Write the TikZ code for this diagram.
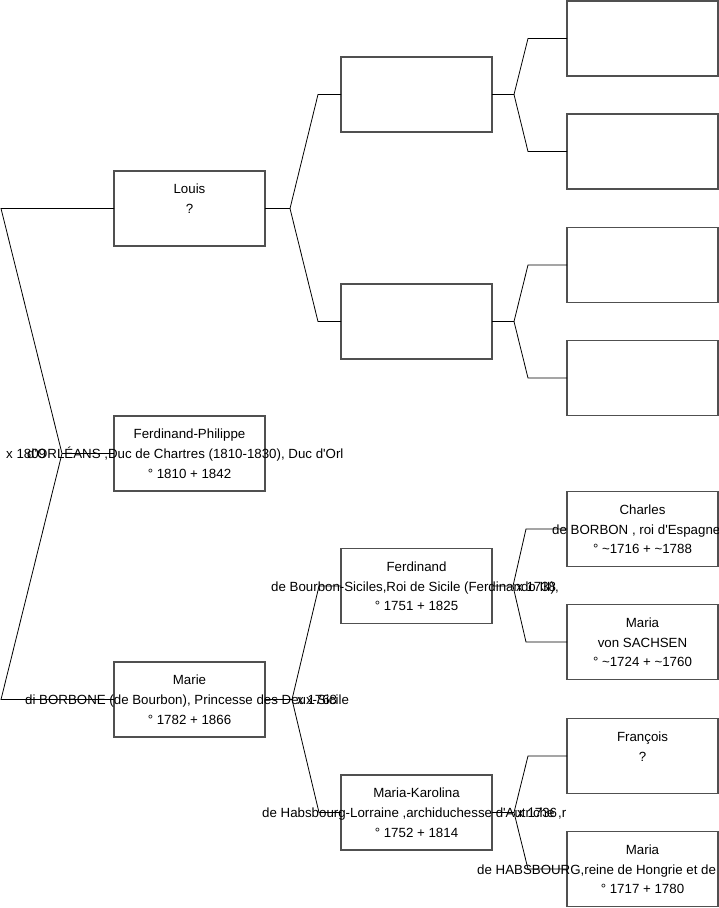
\documentclass[tikz,border=0pt]{standalone}
\usepackage{fontspec}
\newfontfamily\arial{Liberation Sans}
\definecolor{boxgray}{RGB}{80,80,80}
\begin{document}
\begin{tikzpicture}[x=1pt,y=-1pt,
  pbox/.style={draw=boxgray,line width=1.1pt,rectangle,minimum width=151pt,minimum height=75pt,inner sep=0pt,outer sep=0pt},
  txt/.style={inner sep=0pt,anchor=base,font=\arial\fontsize{13.3}{15}\selectfont},
  txtw/.style={txt,anchor=base west},
  la/.style={yshift=15pt},
  lb/.style={yshift=-5pt},
  lc/.style={yshift=-24.5pt},
  conn/.style={draw=black,line width=0.8pt}]
\useasboundingbox (0,0) rectangle (719,908);
\clip (0,0) rectangle (719,908);
% boxes
\node[pbox] (louis) at (189.5,208.5) {};
\node[pbox] (fp) at (189.5,453.5) {};
\node[pbox] (marie) at (189.5,699.5) {};
\node[pbox] (ga) at (416.5,94.5) {};
\node[pbox] (gb) at (416.5,321.5) {};
\node[pbox] (ferd) at (416.5,586) {};
\node[pbox] (mk) at (416.5,812.5) {};
\node[pbox] (h1) at (642.5,38.5) {};
\node[pbox] (h2) at (642.5,151.5) {};
\node[pbox] (h3) at (642.5,265) {};
\node[pbox] (h4) at (642.5,378) {};
\node[pbox] (charles) at (642.5,529) {};
\node[pbox] (sachsen) at (642.5,642) {};
\node[pbox] (francois) at (642.5,756) {};
\node[pbox] (theresia) at (642.5,869) {};
% texts
\node[txt,la] (louisA) at (louis.center) {Louis};
\node[txt,lb] (louisB) at (louis.center) {?};
\node[txt,la] (fpA) at (fp.center) {Ferdinand-Philippe};
\node[txtw,lb] (fpB) at (27,453.5) {d'ORLÉANS ,Duc de Chartres (1810-1830), Duc d'Orl};
\node[txt,lc] (fpC) at (fp.center) {° 1810 + 1842};
\node[txt,la] (marieA) at (marie.center) {Marie};
\node[txtw,lb] (marieB) at (25,699.5) {di BORBONE (de Bourbon), Princesse des Deux-Sicile};
\node[txt,lc] (marieC) at (marie.center) {° 1782 + 1866};
\node[txt,la] (ferdA) at (ferd.center) {Ferdinand};
\node[txtw,lb] (ferdB) at (271,586) {de Bourbon-Siciles,Roi de Sicile (Ferdinando III),};
\node[txt,lc] (ferdC) at (ferd.center) {° 1751 + 1825};
\node[txt,la] (mkA) at (mk.center) {Maria-Karolina};
\node[txtw,lb] (mkB) at (262,812.5) {de Habsbourg-Lorraine ,archiduchesse d'Autriche ,r};
\node[txt,lc] (mkC) at (mk.center) {° 1752 + 1814};
\node[txt,la] (charlesA) at (charles.center) {Charles};
\node[txtw,lb] (charlesB) at (552,529) {de BORBON , roi d'Espagne};
\node[txt,lc] (charlesC) at (charles.center) {° \textasciitilde1716 + \textasciitilde1788};
\node[txt,la] (sachsenA) at (sachsen.center) {Maria};
\node[txt,lb] (sachsenB) at (sachsen.center) {von SACHSEN};
\node[txt,lc] (sachsenC) at (sachsen.center) {° \textasciitilde1724 + \textasciitilde1760};
\node[txt,la] (francoisA) at (francois.center) {François};
\node[txt,lb] (francoisB) at (francois.center) {?};
\node[txt,la] (theresiaA) at (theresia.center) {Maria};
\node[txtw,lb] (theresiaB) at (477,869) {de HABSBOURG,reine de Hongrie et de};
\node[txt,lc] (theresiaC) at (theresia.center) {° 1717 + 1780};
% marriage labels
\node[txtw,lb] (m0) at (6,453.5) {x 1809};
\node[txtw,lb] (m2) at (297,699.5) {x 1768};
\node[txtw,lb] (m5) at (516,586) {x 1738};
\node[txtw,lb] (m6) at (517,812.5) {x 1736};
% connector coordinates
\coordinate (v0) at (62,453.5);
\coordinate (c0a) at (1,208.5);
\coordinate (c0b) at (1,699.5);
\coordinate (v1) at (290,208.5);
\coordinate (c1a) at (318,94.5);
\coordinate (c1b) at (318,321.5);
\coordinate (v2) at (292,699.5);
\coordinate (c2a) at (319,586);
\coordinate (c2b) at (319,812.5);
\coordinate (v3) at (514,94.5);
\coordinate (c3a) at (528,38.5);
\coordinate (c3b) at (528,151.5);
\coordinate (v4) at (514,321.5);
\coordinate (c4a) at (528,265);
\coordinate (c4b) at (528,378);
\coordinate (v5) at (513,586);
\coordinate (c5a) at (526,529);
\coordinate (c5b) at (526,642);
\coordinate (v6) at (514,812.5);
\coordinate (c6a) at (528,756);
\coordinate (c6b) at (528,869);
% connectors
\draw[conn] (louis.west) -- (c0a) -- (v0) -- (c0b) -- (marie.west);
\draw[conn] (v0) -- (fp.west);
\draw[conn] (louis.east) -- (v1) -- (c1a) -- (ga.west);
\draw[conn] (v1) -- (c1b) -- (gb.west);
\draw[conn] (marie.east) -- (v2) -- (c2a) -- (ferd.west);
\draw[conn] (v2) -- (c2b) -- (mk.west);
\draw[conn] (ga.east) -- (v3) -- (c3a) -- (h1.west);
\draw[conn] (v3) -- (c3b) -- (h2.west);
\draw[conn] (gb.east) -- (v4) -- (c4a) -- (h3.west);
\draw[conn] (v4) -- (c4b) -- (h4.west);
\draw[conn] (ferd.east) -- (v5) -- (c5a) -- (charles.west);
\draw[conn] (v5) -- (c5b) -- (sachsen.west);
\draw[conn] (mk.east) -- (v6) -- (c6a) -- (francois.west);
\draw[conn] (v6) -- (c6b) -- (theresia.west);
\end{tikzpicture}
\end{document}
